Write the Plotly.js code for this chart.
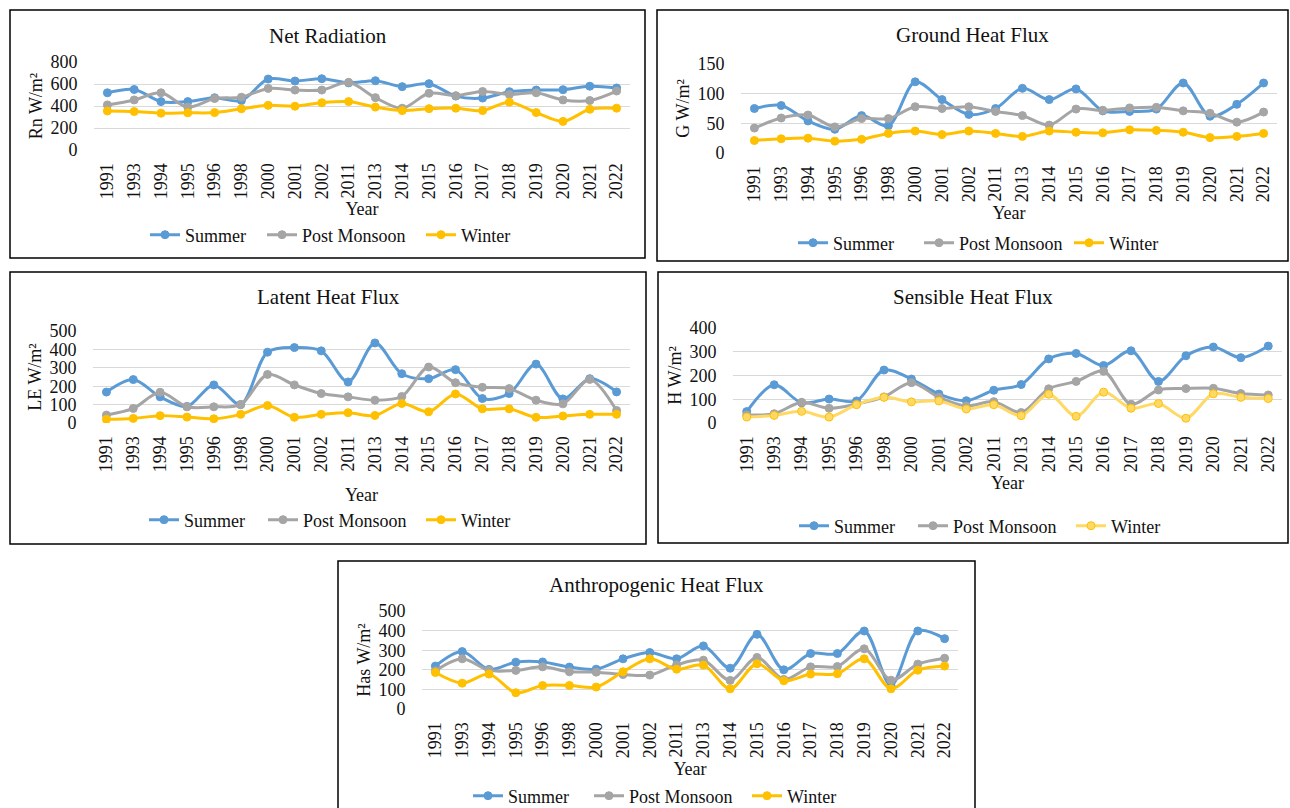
<!DOCTYPE html>
<html>
<head>
<meta charset="utf-8">
<script src="https://cdn.plot.ly/plotly-3.0.1.min.js"></script>
<style>
  html, body { margin: 0; padding: 0; background: #fff; }
  #chart { width: 1290px; height: 808px; }
</style>
</head>
<body>
<div id="chart"></div>
<script>
const years = ['1991','1993','1994','1995','1996','1998','2000','2001','2002','2011','2013','2014','2015','2016','2017','2018','2019','2020','2021','2022'];
const seriesNames = ['Summer', 'Post Monsoon', 'Winter'];

// Net Radiation (Rn W/m²)
const rnSummer  = [520, 550, 440, 440, 475, 450, 645, 627, 648, 610, 630, 576, 603, 490, 472, 530, 545, 548, 580, 564];
const rnPost    = [410, 455, 520, 390, 468, 480, 560, 545, 545, 615, 476, 380, 516, 494, 532, 505, 520, 455, 450, 536];
const rnWinter  = [355, 350, 335, 338, 340, 375, 406, 398, 430, 440, 390, 358, 376, 380, 358, 435, 340, 260, 370, 380];

// Ground Heat Flux (G W/m²)
const gSummer   = [75, 80, 54, 40, 63, 46, 120, 90, 65, 75, 109, 90, 108, 71, 70, 74, 118, 62, 82, 118];
const gPost     = [42, 59, 64, 44, 58, 58, 78, 75, 78, 70, 63, 47, 74, 72, 76, 77, 71, 67, 52, 69];
const gWinter   = [21, 24, 25, 20, 23, 33, 37, 31, 37, 33, 28, 37, 35, 34, 39, 38, 35, 26, 28, 33];

// Latent Heat Flux (LE W/m²)
const leSummer  = [168, 236, 142, 90, 207, 100, 385, 410, 392, 223, 435, 268, 241, 290, 133, 160, 320, 131, 241, 169];
const lePost    = [43, 79, 167, 88, 88, 100, 264, 207, 160, 142, 124, 144, 304, 219, 194, 187, 124, 104, 237, 68];
const leWinter  = [20, 25, 40, 32, 23, 47, 95, 31, 47, 56, 41, 106, 61, 158, 77, 77, 31, 38, 47, 47];

// Sensible Heat Flux (H W/m²)
const hSummer   = [48, 161, 85, 101, 93, 223, 185, 122, 94, 138, 162, 270, 293, 242, 304, 175, 283, 320, 275, 324];
const hPost     = [34, 39, 87, 62, 80, 110, 170, 108, 72, 90, 44, 144, 175, 218, 79, 139, 145, 146, 124, 118];
const hWinter   = [25, 32, 49, 25, 77, 108, 89, 93, 59, 77, 31, 121, 28, 130, 62, 82, 20, 123, 108, 103];

// Anthropogenic Heat Flux (Has W/m²)
const haSummer  = [219, 293, 202, 239, 240, 214, 203, 256, 288, 256, 322, 208, 381, 200, 283, 283, 398, 120, 398, 359];
const haPost    = [195, 256, 197, 197, 215, 190, 188, 176, 173, 225, 249, 146, 263, 151, 215, 217, 307, 147, 229, 259];
const haWinter  = [186, 132, 178, 83, 120, 120, 112, 190, 256, 203, 224, 103, 231, 144, 178, 180, 256, 103, 198, 219];

const W = 1290, H = 808;
const FONT = "'Liberation Serif', 'Times New Roman', serif";
const colors = ['#5B9BD5', '#A5A5A5', '#FFC000'];
const LEG_OFFSET = 7;

const panels = [
  { title: 'Net Radiation', ytitle: 'Rn W/m²', data: [rnSummer, rnPost, rnWinter], ymax: 800, dtick: 200,
    box: [10, 10, 645, 258], plot: [94, 62, 630, 150], titleY: 36, legY: 235, legXs: [152, 269, 428], yearStandoff: 3 },
  { title: 'Ground Heat Flux', ytitle: 'G W/m²', data: [gSummer, gPost, gWinter], ymax: 150, dtick: 50,
    box: [657, 10, 1288, 261], plot: [741, 64, 1277, 153], titleY: 35, legY: 243, legXs: [800, 926, 1076], yearStandoff: 5 },
  { title: 'Latent Heat Flux', ytitle: 'LE W/m²', data: [leSummer, lePost, leWinter], ymax: 500, dtick: 100,
    box: [10, 272, 646, 544], plot: [93, 331, 630, 423], titleY: 297, legY: 520, legXs: [151, 270, 428], yearStandoff: 17 },
  { title: 'Sensible Heat Flux', ytitle: 'H W/m²', data: [hSummer, hPost, hWinter], ymax: 400, dtick: 100,
    box: [658, 272, 1288, 543], plot: [733, 328, 1282, 423], titleY: 297, legY: 526, legXs: [801, 920, 1078], yearStandoff: 5, lightWinter: true },
  { title: 'Anthropogenic Heat Flux', ytitle: 'Has W/m²', data: [haSummer, haPost, haWinter], ymax: 500, dtick: 100,
    box: [338, 561, 975, 840], plot: [422, 611, 958, 709], titleY: 585, legY: 796, legXs: [475, 596, 754], yearStandoff: 5 }
];

const traces = [];
const layout = {
  width: W, height: H,
  margin: { l: 0, r: 0, t: 0, b: 0, autoexpand: false },
  paper_bgcolor: '#ffffff',
  plot_bgcolor: '#ffffff',
  font: { family: FONT, size: 18, color: '#111' },
  showlegend: true,
  shapes: [],
  annotations: []
};

let legendCount = 0;
panels.forEach((p, i) => {
  const n = i + 1;
  const xa = n === 1 ? 'xaxis' : 'xaxis' + n;
  const ya = n === 1 ? 'yaxis' : 'yaxis' + n;
  const xr = n === 1 ? 'x' : 'x' + n;
  const yr = n === 1 ? 'y' : 'y' + n;

  p.data.forEach((vals, s) => {
    legendCount += 1;
    const lg = legendCount === 1 ? 'legend' : 'legend' + legendCount;
    let lineColor = colors[s], markerColor = colors[s], markerLine = colors[s];
    if (p.lightWinter && s === 2) { lineColor = '#FFD966'; markerColor = '#FFD966'; markerLine = '#FFC000'; }
    traces.push({
      type: 'scatter', mode: 'lines+markers',
      x: years, y: vals, name: seriesNames[s],
      xaxis: xr, yaxis: yr, legend: lg,
      line: { color: lineColor, width: 3, shape: 'spline', smoothing: 0.9 },
      marker: { color: markerColor, size: 8, line: { color: markerLine, width: 1 } },
      hoverinfo: 'x+y+name'
    });
    layout[lg] = {
      orientation: 'h',
      x: (p.legXs[s] - LEG_OFFSET) / W, xanchor: 'left',
      y: 1 - p.legY / H, yanchor: 'middle',
      bgcolor: 'rgba(0,0,0,0)', borderwidth: 0,
      font: { family: FONT, size: 18, color: '#111' },
      itemclick: false, itemdoubleclick: false
    };
  });

  const [px0, py0, px1, py1] = p.plot;
  layout[xa] = {
    domain: [px0 / W, px1 / W],
    anchor: yr,
    type: 'category',
    range: [-0.5, years.length - 0.5],
    tickangle: -90,
    showgrid: false, zeroline: false, showline: false,
    ticks: 'outside', ticklen: 5, tickcolor: 'rgba(0,0,0,0)',
    tickfont: { family: FONT, size: 18, color: '#111' },
    title: { text: 'Year', font: { family: FONT, size: 18, color: '#111' }, standoff: p.yearStandoff },
    automargin: false,
    fixedrange: true
  };
  layout[ya] = {
    domain: [1 - py1 / H, 1 - py0 / H],
    anchor: xr,
    range: [0, p.ymax],
    dtick: p.dtick,
    tick0: 0,
    showgrid: true, gridcolor: '#D9D9D9', gridwidth: 1,
    zeroline: false, showline: false,
    ticks: 'outside', ticklen: 12, tickcolor: 'rgba(0,0,0,0)',
    tickfont: { family: FONT, size: 18, color: '#111' },
    title: { text: p.ytitle, font: { family: FONT, size: 18, color: '#111' }, standoff: 3 },
    automargin: false,
    fixedrange: true
  };

  const [bx0, by0, bx1, by1] = p.box;
  layout.shapes.push({
    type: 'rect', xref: 'paper', yref: 'paper',
    x0: bx0 / W, x1: bx1 / W, y0: 1 - by1 / H, y1: 1 - by0 / H,
    line: { color: '#000', width: 1.5 }, fillcolor: 'rgba(0,0,0,0)', layer: 'below'
  });

  layout.annotations.push({
    text: p.title, xref: 'paper', yref: 'paper',
    x: ((bx0 + bx1) / 2) / W, y: 1 - p.titleY / H,
    xanchor: 'center', yanchor: 'middle', showarrow: false,
    font: { family: FONT, size: 21, color: '#111' }
  });
});

Plotly.newPlot('chart', traces, layout, { displayModeBar: false });
</script>
</body>
</html>
